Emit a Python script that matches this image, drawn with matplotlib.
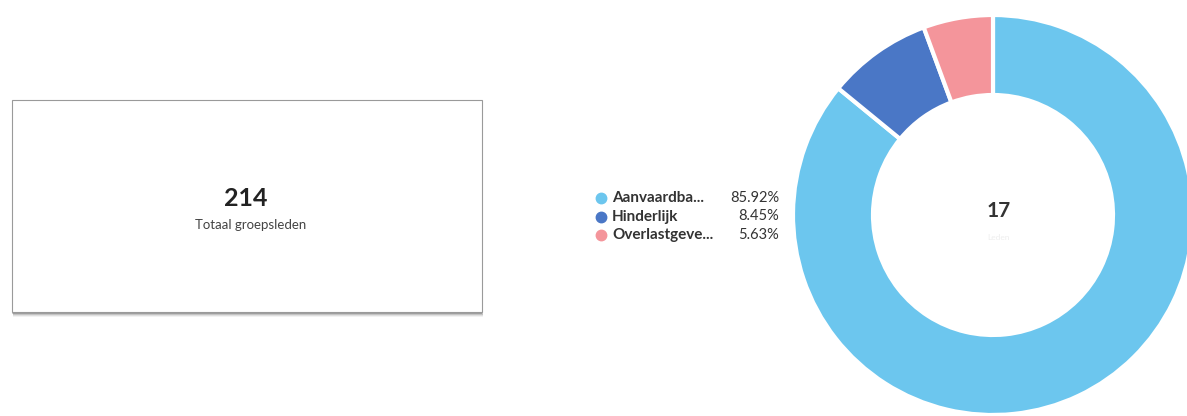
import matplotlib.pyplot as plt
from matplotlib.patches import Rectangle

plt.rcParams['font.family'] = ['Lato', 'DejaVu Sans']

# data
total_leden = 214
total_label = 'Totaal groepsleden'
labels = ['Aanvaardba...', 'Hinderlijk', 'Overlastgeve...']
percentages = [85.92, 8.45, 5.63]
colors = ['#6cc6ee', '#4a77c6', '#f4959b']
center_value = 17
center_label = 'Leden'

W, H = 1187, 416
fig = plt.figure(figsize=(W / 100, H / 100), dpi=100)

# background axes in pixel units
bg = fig.add_axes([0, 0, 1, 1])
bg.set_xlim(0, W)
bg.set_ylim(H, 0)
bg.axis('off')

# card with a soft shadow
for off, a in [(4, 0.05), (3, 0.08), (2, 0.12), (1, 0.18)]:
    bg.add_patch(Rectangle((12 + off * 0.3, 101 + off), 470, 212, facecolor='#000000',
                           alpha=a, edgecolor='none', zorder=1))
bg.add_patch(Rectangle((12, 100), 470, 212, facecolor='white', edgecolor='#9a9a9a',
                       linewidth=0.8, zorder=2))
bg.text(246, 198, str(total_leden), fontsize=18, fontweight='bold', color='#222222',
        ha='center', va='center', zorder=3)
bg.text(251, 225, total_label, fontsize=9.5, color='#444444', ha='center', va='center',
        zorder=3)

# legend
for i, (lab, p, c) in enumerate(zip(labels, percentages, colors)):
    y = 198 + i * 18.5
    bg.plot(601, y, 'o', color=c, markersize=7.5, zorder=3)
    bg.text(612, y, lab, fontsize=11, fontweight='bold', color='#333333', va='center')
    bg.text(779, y, f'{p:.2f}%', fontsize=10.5, color='#333333', va='center', ha='right')

# donut
cx, cy, r = 993, 215, 200
ax = fig.add_axes([(cx - r) / W, (H - cy - r) / H, 2 * r / W, 2 * r / H])
ax.pie(percentages, colors=colors, startangle=90, counterclock=False, radius=1,
       wedgeprops=dict(width=0.4, edgecolor='white', linewidth=3))
ax.set_xlim(-1, 1)
ax.set_ylim(-1, 1)
ax.set_aspect('equal')
ax.axis('off')
ax.text(0.03, 0.02, str(center_value), fontsize=15, fontweight='bold', color='#333333',
        ha='center', va='center')
ax.text(0.03, -0.11, center_label, fontsize=6, color='#eeeeee', ha='center', va='center')

fig.savefig('out.png', dpi=100)
